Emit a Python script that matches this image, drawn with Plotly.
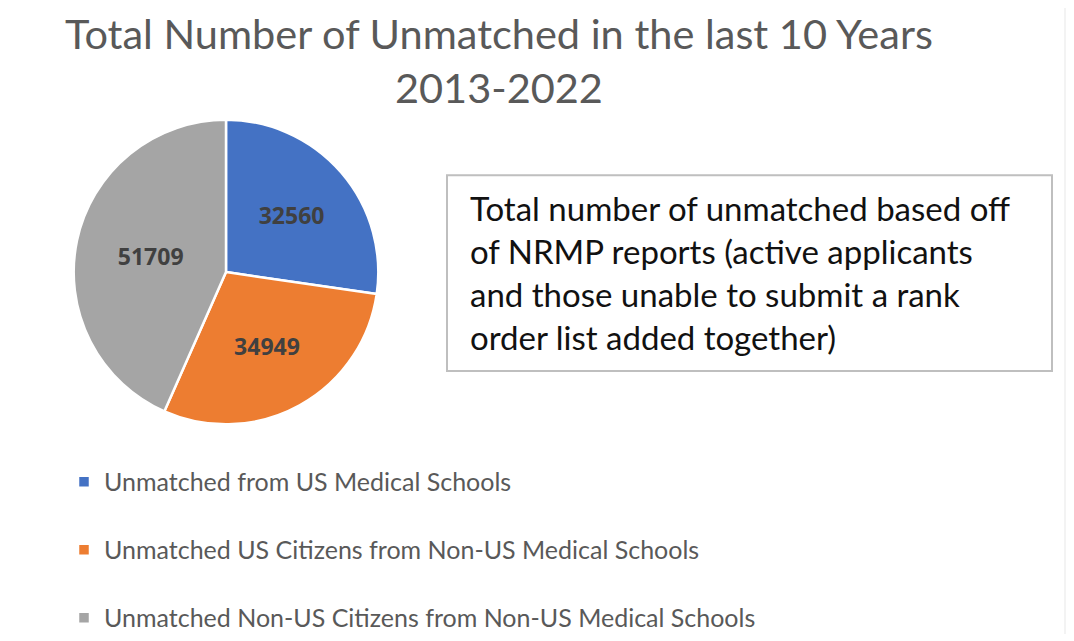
import plotly.graph_objects as go

categories = [
    "Unmatched from US Medical Schools",
    "Unmatched US Citizens from Non-US Medical Schools",
    "Unmatched Non-US Citizens from Non-US Medical Schools",
]
values = [32560, 34949, 51709]
colors = ["#4472C4", "#ED7D31", "#A5A5A5"]

title_text = "Total Number of Unmatched in the last 10 Years<br>2013-2022"
note_text = ("Total number of unmatched based off<br>of NRMP reports (active applicants<br>"
             "and those unable to submit a rank<br>order list added together)")

# page has an 8px body margin; figure sized to fit the window
OFF = 8
W, H = 1074 - OFF, 641 - OFF


def px(x):
    return (x - OFF) / W


def py(y):
    return 1 - (y - OFF) / H


# extra blank line after the first two entries to space the legend rows
legend_labels = [c + "<br> " for c in categories[:-1]] + [categories[-1]]

cx, cy, half = 226, 275, 154

fig = go.Figure(go.Pie(
    labels=legend_labels,
    values=values,
    sort=False,
    direction="clockwise",
    rotation=0,
    marker=dict(colors=colors, line=dict(color="white", width=2.5)),
    texttemplate="%{value:.0f}",
    textposition="inside",
    insidetextorientation="horizontal",
    textfont=dict(family="Open Sans", size=23, color="#404040", weight="bold"),
    domain=dict(x=[px(cx - half), px(cx + half)], y=[py(cy + half), py(cy - half)]),
    hoverinfo="label+value",
))

fig.update_layout(
    width=W, height=H,
    margin=dict(l=0, r=0, t=0, b=0),
    paper_bgcolor="white",
    plot_bgcolor="white",
    showlegend=True,
    legend=dict(
        x=px(64), y=py(464), xanchor="left", yanchor="top",
        font=dict(family="Lato", size=25, color="#595959"),
        valign="top",
        bgcolor="rgba(0,0,0,0)",
        itemwidth=30,
    ),
    annotations=[
        dict(text=title_text, x=px(499), y=py(6), xref="paper", yref="paper",
             xanchor="center", yanchor="top", showarrow=False, align="center",
             font=dict(family="Lato", size=41.5, color="#595959")),
        dict(text=note_text, x=px(468), y=py(275), xref="paper", yref="paper",
             xanchor="left", yanchor="middle", showarrow=False, align="left",
             font=dict(family="Lato", size=33, color="#111111")),
    ],
    shapes=[
        dict(type="rect", xref="paper", yref="paper",
             x0=px(447), x1=px(1052), y0=py(375), y1=py(177),
             line=dict(color="#bfbfbf", width=2), fillcolor="rgba(0,0,0,0)"),
        dict(type="rect", xref="paper", yref="paper",
             x0=px(1064), x1=1, y0=0, y1=1,
             line=dict(width=0), fillcolor="#f3f3f3", layer="below"),
    ],
)

fig.write_html("out.html")
